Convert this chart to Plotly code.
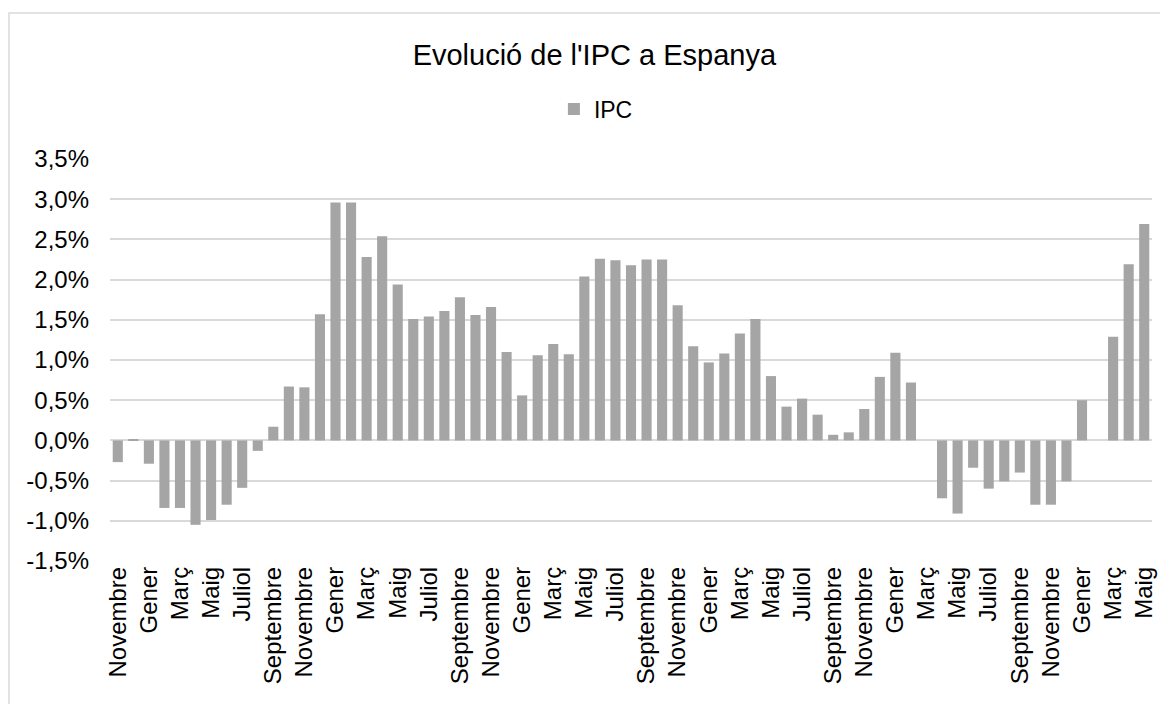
import plotly.graph_objects as go

# Months from Novembre 2015 to Maig 2021
mesos = [
    "Novembre", "Desembre",
    "Gener", "Febrer", "Març", "Abril", "Maig", "Juny", "Juliol", "Agost", "Septembre", "Octubre", "Novembre", "Desembre",
    "Gener", "Febrer", "Març", "Abril", "Maig", "Juny", "Juliol", "Agost", "Septembre", "Octubre", "Novembre", "Desembre",
    "Gener", "Febrer", "Març", "Abril", "Maig", "Juny", "Juliol", "Agost", "Septembre", "Octubre", "Novembre", "Desembre",
    "Gener", "Febrer", "Març", "Abril", "Maig", "Juny", "Juliol", "Agost", "Septembre", "Octubre", "Novembre", "Desembre",
    "Gener", "Febrer", "Març", "Abril", "Maig", "Juny", "Juliol", "Agost", "Septembre", "Octubre", "Novembre", "Desembre",
    "Gener", "Febrer", "Març", "Abril", "Maig",
]

# IPC (%)
ipc = [
    -0.27, 0.01,
    -0.29, -0.84, -0.84, -1.05, -0.99, -0.80, -0.59, -0.13, 0.17, 0.67, 0.66, 1.57,
    2.96, 2.96, 2.28, 2.54, 1.94, 1.51, 1.54, 1.61, 1.78, 1.56, 1.66, 1.10,
    0.56, 1.06, 1.20, 1.07, 2.04, 2.26, 2.24, 2.18, 2.25, 2.25, 1.68, 1.17,
    0.97, 1.08, 1.33, 1.51, 0.80, 0.42, 0.52, 0.32, 0.07, 0.10, 0.39, 0.79,
    1.09, 0.72, 0.00, -0.72, -0.91, -0.34, -0.60, -0.51, -0.40, -0.80, -0.80, -0.51,
    0.50, 0.00, 1.29, 2.19, 2.69,
]

y_ticks = [-1.5, -1.0, -0.5, 0.0, 0.5, 1.0, 1.5, 2.0, 2.5, 3.0, 3.5]
y_tick_labels = ["-1,5%", "-1,0%", "-0,5%", "0,0%", "0,5%", "1,0%", "1,5%",
                 "2,0%", "2,5%", "3,0%", "3,5%"]

x_idx = list(range(len(ipc)))

FONT = "Liberation Sans, Arial, sans-serif"

fig = go.Figure()
fig.add_trace(go.Bar(
    x=x_idx, y=ipc, name="IPC",
    marker=dict(color="#a5a5a5", line=dict(width=0)),
    hovertemplate="%{customdata}: %{y:.1f}%<extra></extra>",
    customdata=mesos,
))

fig.update_layout(
    width=1168, height=704,
    paper_bgcolor="white", plot_bgcolor="white",
    separators=",.",
    margin=dict(l=102, r=24, t=151, b=151),
    bargap=0.35,
    title=dict(
        text="Evolució de l'IPC a Espanya",
        x=0.502, xanchor="center", y=1 - 47 / 704, yanchor="middle",
        font=dict(family=FONT, size=29, color="#000000"),
    ),
    showlegend=True,
    legend=dict(
        orientation="h", x=0.426, xanchor="left", y=1.124, yanchor="middle",
        font=dict(family=FONT, size=23, color="#000000"),
        itemwidth=30, bgcolor="rgba(0,0,0,0)",
    ),
    xaxis=dict(
        range=[-0.5, len(ipc) - 0.5],
        tickmode="array", tickvals=x_idx[::2], ticktext=mesos[::2],
        tickangle=-90, showgrid=False, zeroline=False, showline=False,
        ticks="", tickfont=dict(family=FONT, size=24, color="#000000"),
        fixedrange=True,
    ),
    yaxis=dict(
        range=[-1.5, 3.5], tickmode="array", tickvals=y_ticks,
        ticktext=y_tick_labels,
        showgrid=True, gridcolor="#d9d9d9", gridwidth=1.5,
        zeroline=True, zerolinecolor="#d9d9d9", zerolinewidth=1.5,
        showline=False, ticks="", ticklabelstandoff=20,
        tickfont=dict(family=FONT, size=24, color="#000000"),
        fixedrange=True,
    ),
    shapes=[dict(
        type="rect", xref="paper", yref="paper",
        x0=(1 - 102) / 1042, x1=1.1, y0=-1.0, y1=(553 - 5) / 402,
        line=dict(color="#d9d9d9", width=1.5), fillcolor="rgba(0,0,0,0)",
        layer="below",
    )],
)

fig.write_html("out.html")
